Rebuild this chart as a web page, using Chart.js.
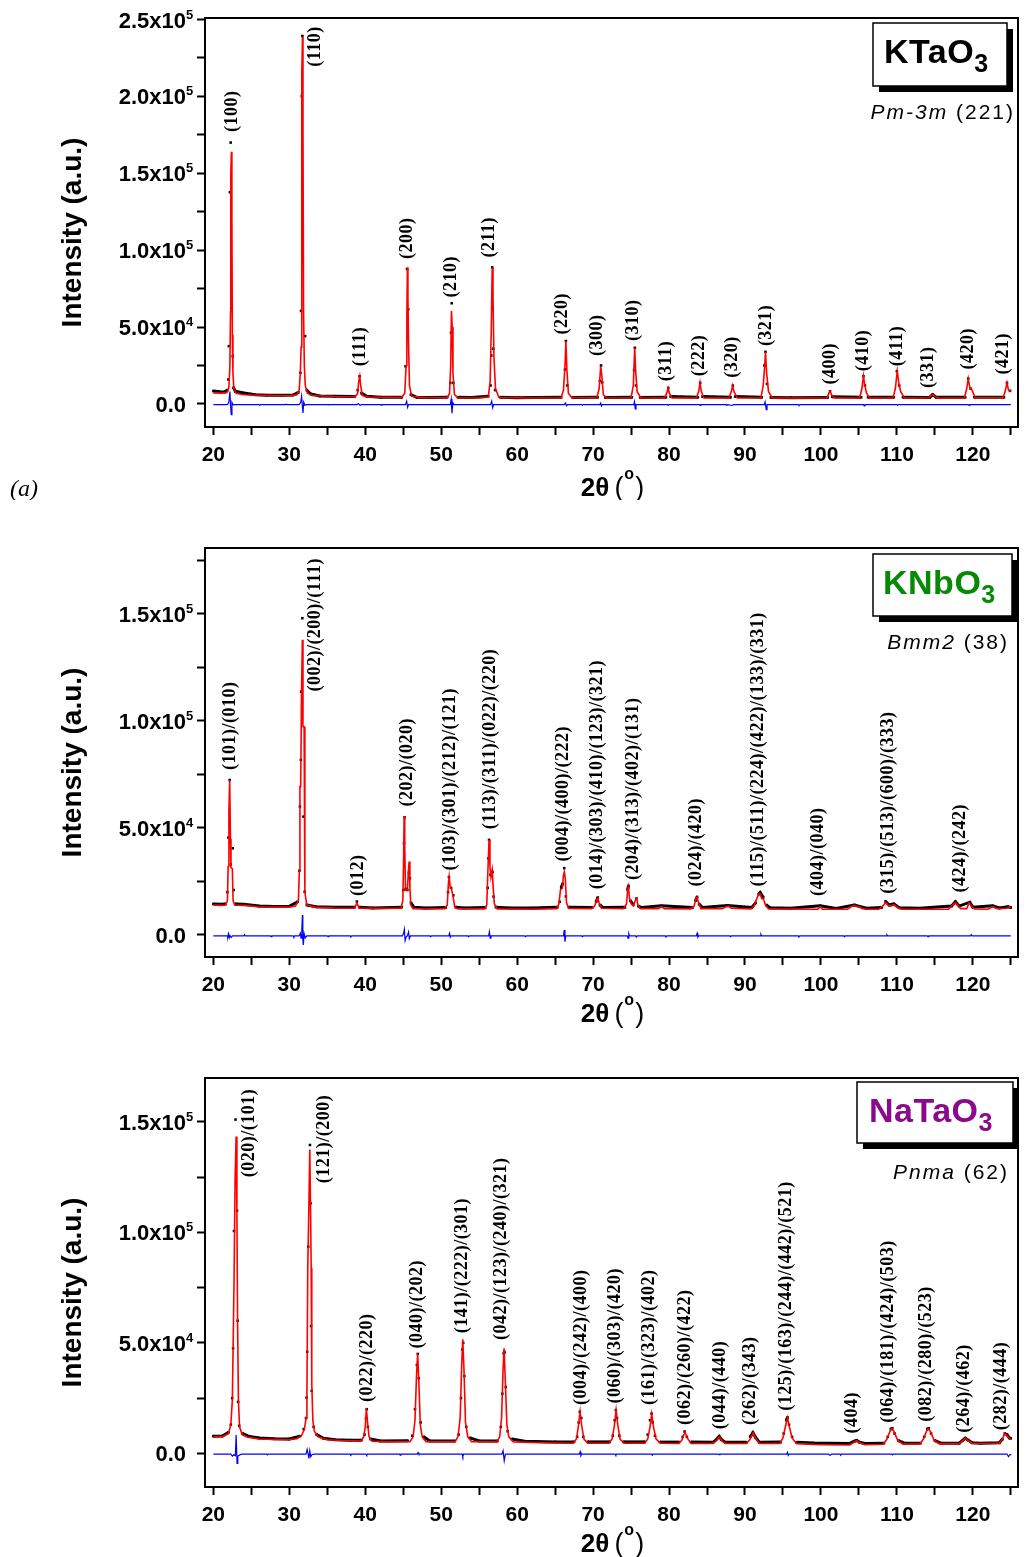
<!DOCTYPE html>
<html>
<head>
<meta charset="utf-8">
<script src="https://cdn.jsdelivr.net/npm/chart.js@4/dist/chart.umd.min.js"></script>
<style>
  html, body { margin: 0; padding: 0; background: #fff; }
  body { width: 1027px; height: 1557px; position: relative; overflow: hidden; }
  canvas { position: absolute; left: 0; }
</style>
</head>
<body>
<canvas id="c1" width="1027" height="500" style="top:0px"></canvas>
<canvas id="c2" width="1027" height="500" style="top:530px"></canvas>
<canvas id="c3" width="1027" height="497" style="top:1060px"></canvas>
<script>
// ---------- shared axis ticks (2θ in degrees) ----------
const xTickValues = [20, 25, 30, 35, 40, 45, 50, 55, 60, 65, 70, 75, 80, 85, 90, 95, 100, 105, 110, 115, 120, 125];
const xLabelValues = [20, 30, 40, 50, 60, 70, 80, 90, 100, 110, 120];

// ---------- KTaO3, Pm-3m ----------
const ktoYTicks = [0, 25000, 50000, 75000, 100000, 125000, 150000, 175000, 200000, 225000, 250000];
const ktoYLabelValues = [0, 50000, 100000, 150000, 200000, 250000];
const ktoYLabelText = ["0.0", "5.0x10^4", "1.0x10^5", "1.5x10^5", "2.0x10^5", "2.5x10^5"];

const ktoCalc = [[20.0,7200],[21.0,7000],[21.8,7500],[22.05,11000],[22.18,25000],[22.26,60000],[22.3,150000],[22.38,164000],[22.44,120000],[22.5,45000],[22.58,20000],[22.7,10000],[23.0,7000],[24.0,6000],[27.0,5500],[30.0,5300],[31.0,6000],[31.3,9000],[31.45,20000],[31.55,37000],[31.62,120000],[31.67,215000],[31.74,239000],[31.8,180000],[31.88,60000],[31.98,25000],[32.1,12000],[32.4,7000],[33.0,5500],[36.0,4800],[38.7,4700],[39.0,7000],[39.15,15000],[39.28,18000],[39.4,12000],[39.6,5500],[40.5,4500],[44.8,4200],[45.2,7000],[45.38,25000],[45.48,57000],[45.55,88800],[45.62,70000],[45.7,40000],[45.82,12000],[46.1,5000],[48,4000],[50.8,4000],[51.1,7000],[51.25,25000],[51.35,60500],[51.45,50000],[51.55,20000],[51.75,6000],[52.2,4000],[55,3900],[56.2,4500],[56.45,15000],[56.6,50000],[56.72,88800],[56.82,70000],[56.95,30000],[57.15,10000],[57.6,4200],[62,3900],[65.8,4000],[66.1,9000],[66.3,25000],[66.42,40900],[66.55,22000],[66.75,7000],[67.2,4000],[70.5,4000],[70.8,10000],[71.0,24500],[71.12,20000],[71.35,6000],[71.8,3900],[75.0,4000],[75.3,12000],[75.48,36500],[75.6,22000],[75.8,8000],[76.3,3900],[79.4,3900],[79.7,7000],[79.88,10400],[80.05,7000],[80.4,3900],[83.6,3900],[83.9,8000],[84.08,13700],[84.25,8000],[84.6,3900],[87.9,3900],[88.2,8000],[88.38,11900],[88.55,8000],[89.0,3900],[92.1,4000],[92.4,12000],[92.6,25000],[92.7,33900],[92.85,20000],[93.1,8000],[93.6,3900],[100.8,3900],[101.05,7000],[101.2,8200],[101.4,6000],[101.8,3900],[105.1,3900],[105.4,10000],[105.6,18000],[105.75,13000],[106.0,7000],[106.4,3900],[109.5,3900],[109.8,10000],[110.05,21300],[110.25,14000],[110.5,8000],[111.0,3900],[114.2,3900],[114.5,5500],[114.7,6000],[115.0,5000],[115.4,3900],[118.9,3900],[119.2,10000],[119.4,16500],[119.6,11000],[119.9,9000],[120.3,4000],[124.0,4000],[124.3,9000],[124.5,13700],[124.7,9000],[125.0,8000]];

const ktoObs = [[20,8400],[20.8,8000],[21.5,7800],[21.85,9000],[21.98,15900],[22.04,37600],[22.18,137700],[22.28,170000],[22.55,31000],[22.66,10600],[22.9,8200],[23.8,7300],[25.5,6000],[27,5700],[29,5600],[30.5,5800],[31.2,7500],[31.46,20200],[31.55,60500],[31.64,200100],[31.72,239300],[32.08,44100],[32.3,9000],[32.8,6500],[34,5200],[36,5000],[38.6,4800],[39.0,9000],[39.25,18000],[39.5,7000],[40.2,5000],[42,4400],[44.8,4300],[45.3,24500],[45.5,87800],[45.66,61500],[46.0,6000],[46.8,4300],[48.5,4200],[50.8,4400],[51.2,13700],[51.3,46300],[51.38,65500],[51.6,13700],[52.2,4300],[54,4200],[56.2,5000],[56.5,12000],[56.6,31500],[56.72,88800],[56.85,35900],[57.1,9000],[57.8,4300],[60,4100],[62,4200],[65.8,4300],[66.3,22400],[66.42,40900],[66.6,12000],[67.3,4200],[70.6,4300],[70.9,15000],[71.05,25000],[71.2,14000],[71.6,4200],[75.1,4300],[75.4,22000],[75.5,36500],[75.65,12000],[76.2,4200],[79.6,4300],[79.9,10400],[80.2,4800],[83.8,4300],[84.1,13700],[84.4,4800],[88.1,4300],[88.4,11900],[88.7,4800],[92.2,4300],[92.55,25000],[92.7,33900],[92.9,13000],[93.4,4200],[96,4100],[100.9,4200],[101.2,8200],[101.5,4600],[105.3,4300],[105.6,18000],[105.8,12000],[106.2,4400],[109.6,4300],[110.0,21300],[110.3,12000],[110.8,4400],[114.3,4200],[114.7,6000],[115.2,4300],[119.0,4300],[119.4,16500],[119.7,10000],[120.2,4400],[124.1,4300],[124.5,13700],[124.9,8500]];

const ktoDiff = [[20,-450],[21.5,-450],[21.9,-300],[22.05,1500],[22.18,8000],[22.28,-2000],[22.36,-7000],[22.45,1000],[22.6,-600],[22.8,-450],[26,-450],[26.1,-800],[26.2,-450],[29.5,-450],[29.6,-150],[29.7,-450],[31.3,-450],[31.5,1000],[31.62,5000],[31.72,-1500],[31.8,-5900],[31.9,1200],[32.05,-800],[32.3,-450],[35,-450],[35.1,-700],[35.2,-450],[38.9,-450],[39.1,300],[39.3,-900],[39.5,-450],[42,-450],[42.1,-750],[42.2,-450],[45.3,-450],[45.45,1800],[45.58,-2200],[45.7,-450],[51.2,-450],[51.32,3200],[51.42,-6000],[51.55,600],[51.7,-450],[56.5,-450],[56.65,1800],[56.78,-2500],[56.9,-450],[66.2,-450],[66.35,600],[66.5,-1200],[66.6,-450],[68.5,-450],[68.6,-900],[68.7,-450],[70.9,-450],[71.0,500],[71.1,-1300],[71.2,-450],[75.35,-450],[75.45,1500],[75.55,-3300],[75.65,-450],[79.8,-450],[79.9,-1000],[80.0,-450],[84.0,-450],[84.1,-900],[84.2,-450],[87.5,-450],[87.6,-900],[87.7,-450],[88.3,-1000],[88.5,-450],[92.55,-450],[92.65,1300],[92.8,-3700],[92.9,-450],[97,-450],[97.1,-900],[97.2,-450],[105.6,-450],[105.7,-1200],[105.8,-450],[110.0,-450],[110.1,-1000],[110.2,-450],[119.4,-450],[119.5,-900],[119.6,-450],[125,-450]];

const ktoHkl = ["(100)","(110)","(111)","(200)","(210)","(211)","(220)","(300)","(310)","(311)","(222)","(320)","(321)","(400)","(410)","(411)","(331)","(420)","(421)"];
const ktoHklAt = [22.5,33.4,39.3,45.55,51.4,56.35,66.0,70.5,75.3,79.6,84.0,88.35,92.75,101.2,105.6,110.0,114.2,119.4,124.0];
const ktoHklBase = [176900,219300,24500,94200,69200,95300,45200,31100,40900,14800,18000,17000,37600,12600,21300,24500,10400,22400,19100];

// ---------- KNbO3, Bmm2 ----------
const knoYTicks = [0, 25000, 50000, 75000, 100000, 125000, 150000, 175000];
const knoYLabelValues = [0, 50000, 100000, 150000];
const knoYLabelText = ["0.0", "5.0x10^4", "1.0x10^5", "1.5x10^5"];

const knoCalc = [[20,14000],[21.0,13800],[21.6,14000],[21.85,16000],[21.95,32000],[22.05,58000],[22.15,72400],[22.25,45000],[22.32,31500],[22.5,31000],[22.6,16000],[22.8,14000],[24,13800],[26,13200],[28,13000],[30,13000],[30.8,13500],[31.2,16000],[31.32,30000],[31.4,69300],[31.5,69300],[31.6,110000],[31.72,137900],[31.8,97300],[31.95,97300],[32.05,20000],[32.3,14000],[33.5,12900],[36,12600],[38.6,12500],[38.9,15000],[39.2,12500],[41,12400],[44.7,12500],[44.95,16000],[45.05,35000],[45.12,55600],[45.2,42000],[45.3,21000],[45.55,21000],[45.68,30000],[45.78,34300],[45.88,22000],[46.0,14000],[46.3,12300],[48,12100],[50.5,12300],[50.8,14000],[50.95,24000],[51.05,27200],[51.2,22000],[51.35,21800],[51.5,19000],[51.65,16000],[51.8,13000],[52.2,12200],[55.7,12200],[56.0,14000],[56.15,30000],[56.3,44400],[56.42,32000],[56.55,27000],[56.72,30400],[56.85,22000],[57.0,14500],[57.4,12200],[62,12000],[65.2,12300],[65.5,14500],[65.7,21000],[65.95,22000],[66.1,28000],[66.22,29500],[66.35,26000],[66.5,15000],[66.8,12400],[69.8,12300],[70.2,13500],[70.5,16500],[70.62,17100],[70.8,15000],[71.1,12500],[74.0,12300],[74.4,14500],[74.55,21000],[74.65,22600],[74.8,17000],[75.05,14500],[75.3,13700],[75.6,16500],[75.75,17100],[75.9,14000],[76.2,12300],[78.6,12300],[79.0,13200],[79.4,12300],[82.9,12200],[83.3,13500],[83.55,17000],[83.7,17600],[83.85,15500],[84.2,12300],[87.0,12300],[87.5,13200],[87.8,13500],[88.2,12500],[90.8,12200],[91.2,13500],[91.5,16500],[91.8,19000],[92.0,19200],[92.2,17000],[92.4,17100],[92.7,14000],[93.1,12200],[99.6,12000],[99.9,13200],[100.2,12000],[103.5,12000],[104.0,13300],[104.4,13700],[104.9,13200],[105.5,12300],[106.0,12000],[107.6,12000],[108.2,13700],[108.55,15300],[108.9,13700],[109.3,13600],[109.6,14200],[110.0,13000],[110.6,12000],[116.8,12000],[117.3,13800],[117.7,15100],[118.0,14000],[118.4,12300],[119.2,12300],[119.5,15000],[119.8,13500],[120.2,12200],[122.0,12000],[122.6,13200],[123.2,12300],[124.4,12500],[124.8,13000],[125,12800]];

const knoObs = [[20,14500],[21,14300],[21.6,14500],[21.85,20000],[21.98,45500],[22.15,72400],[22.3,33000],[22.55,40500],[22.68,21000],[22.9,14500],[24,14300],[26,13500],[28,13300],[30,13400],[31.1,15500],[31.33,30000],[31.4,60000],[31.52,81800],[31.56,113700],[31.72,148000],[31.86,55300],[32.02,20200],[32.3,14000],[33.5,13200],[36,12900],[38.6,13000],[38.9,15600],[39.2,13000],[41,12600],[44.8,13000],[45.02,21000],[45.1,42800],[45.18,55000],[45.32,21500],[45.55,21000],[45.75,29000],[45.88,26500],[46.02,15000],[46.4,12900],[48,12600],[50.6,12800],[50.9,20000],[51.02,27000],[51.3,22000],[51.6,18500],[51.9,13000],[53,12600],[55.8,12800],[56.12,22000],[56.22,35800],[56.3,44400],[56.5,28000],[56.75,29500],[56.9,17900],[57.2,13000],[59,12600],[62,12600],[65.3,12900],[65.6,15500],[65.8,22000],[66.0,24000],[66.2,31200],[66.42,18000],[66.8,13000],[69.9,12800],[70.4,15500],[70.62,17500],[70.9,14000],[71.3,12800],[74.2,12900],[74.55,21000],[74.66,23000],[74.9,16000],[75.3,14000],[75.7,17000],[75.95,13500],[76.4,12800],[79.0,13600],[83.1,12800],[83.5,16000],[83.7,17800],[83.95,14500],[84.4,12800],[87.7,13800],[90.9,12800],[91.4,15000],[91.8,19000],[92.0,19800],[92.4,17600],[92.8,14000],[93.3,12700],[96,12500],[99.9,13600],[102,12400],[104.4,14000],[106,12500],[108.0,12800],[108.5,15700],[109.0,14000],[109.6,14500],[110.3,12700],[113,12500],[117.2,13500],[117.7,15500],[118.2,13500],[119.6,15300],[120.0,13000],[122.6,13600],[123.5,12600],[124.6,13200],[125,12800]];

const knoDiff = [[20,-470],[21.8,-470],[21.9,-1000],[22.0,600],[22.1,-1300],[22.2,-300],[22.35,-1200],[22.5,-470],[24.0,-470],[24.1,100],[24.2,-470],[27.5,-470],[27.6,-800],[27.7,-470],[30.5,-470],[30.6,-1000],[30.7,-470],[31.3,-470],[31.45,800],[31.55,-1500],[31.65,2500],[31.73,9300],[31.78,-2000],[31.85,-4700],[31.95,700],[32.1,-1400],[32.3,-470],[35,-470],[35.1,-800],[35.2,-470],[38,-470],[38.1,-800],[38.2,-470],[44.9,-470],[45.05,800],[45.15,2650],[45.25,-2650],[45.4,-800],[45.55,-470],[45.7,1400],[45.8,-1700],[45.95,-470],[48.5,-470],[48.6,-800],[48.7,-470],[51.0,-470],[51.1,800],[51.2,-1000],[51.3,-470],[53.5,-470],[53.6,-800],[53.7,-470],[56.25,-470],[56.35,1500],[56.45,-1500],[56.55,-470],[61,-470],[61.1,-800],[61.2,-470],[66.1,-470],[66.2,2300],[66.3,-3100],[66.4,-470],[68.5,-470],[68.6,-800],[68.7,-470],[74.5,-470],[74.6,-1500],[74.7,600],[74.8,-470],[75.6,-470],[75.7,-1000],[75.8,-470],[79.5,-470],[79.6,-800],[79.7,-470],[83.6,-470],[83.7,800],[83.8,-1000],[83.9,-470],[88,-470],[88.1,-800],[88.2,-470],[92,-470],[92.1,300],[92.2,-470],[97,-470],[97.1,-800],[97.2,-470],[103,-470],[103.1,-800],[103.2,-470],[108.6,-470],[108.7,100],[108.8,-470],[114,-470],[114.1,-800],[114.2,-470],[119.7,-470],[119.8,100],[119.9,-470],[125,-470]];

const knoHkl = ["(101)/(010)","(002)/(200)/(111)","(012)","(202)/(020)","(103)/(301)/(212)/(121)","(113)/(311)/(022)/(220)","(004)/(400)/(222)","(014)/(303)/(410)/(123)/(321)","(204)/(313)/(402)/(131)","(024)/(420)","(115)/(511)/(224)/(422)/(133)/(331)","(404)/(040)","(315)/(513)/(600)/(333)","(424)/(242)"];
const knoHklAt = [22.3,33.4,39.1,45.5,51.26,56.45,66.1,70.5,75.35,83.65,91.77,99.7,108.9,118.3];
const knoHklBase = [77100,113700,18200,60000,30100,49400,34300,21300,25700,22600,22600,18200,19200,19800];

// ---------- NaTaO3, Pnma ----------
const ntoYTicks = [0, 25000, 50000, 75000, 100000, 125000, 150000];
const ntoYLabelValues = [0, 50000, 100000, 150000];
const ntoYLabelText = ["0.0", "5.0x10^4", "1.0x10^5", "1.5x10^5"];

const ntoCalc = [[20,7500],[21.2,7600],[22.0,9000],[22.3,13000],[22.5,24000],[22.6,47500],[22.72,77000],[22.86,123600],[23.0,143300],[23.1,110000],[23.18,63000],[23.3,24000],[23.45,12000],[23.8,8500],[24.5,7300],[26,6500],[28,6300],[30,6200],[31.0,6600],[31.6,8000],[32.0,11000],[32.2,16000],[32.32,25000],[32.43,84000],[32.56,108500],[32.7,137500],[32.8,110000],[32.88,84000],[32.96,31700],[33.1,15000],[33.3,10000],[33.8,7500],[35,6200],[37,5800],[39.4,5600],[39.8,7500],[40.0,12000],[40.15,20400],[40.3,14000],[40.5,7500],[40.9,5500],[43,5200],[45.9,5300],[46.3,7500],[46.55,15000],[46.75,35000],[46.9,45200],[47.05,33000],[47.25,13000],[47.5,7500],[48.0,5300],[51.8,5200],[52.2,7500],[52.5,16000],[52.7,40000],[52.84,51600],[53.0,38000],[53.2,14000],[53.5,7500],[54.0,5300],[57.3,5200],[57.7,7500],[57.95,16000],[58.15,38000],[58.28,47500],[58.42,35000],[58.65,13000],[58.9,7500],[59.5,5200],[63,4800],[67.4,4600],[67.8,6500],[68.05,12000],[68.29,18800],[68.5,12500],[68.8,6500],[69.3,4600],[72.1,4600],[72.5,6500],[72.8,12500],[73.03,19600],[73.25,13000],[73.55,6500],[74.1,4600],[76.8,4600],[77.2,6500],[77.5,12000],[77.72,17800],[77.95,12000],[78.3,6500],[78.9,4600],[81.3,4500],[81.7,6000],[82.1,9800],[82.4,7000],[82.9,4500],[85.8,4500],[86.2,5600],[86.6,7500],[86.95,5800],[87.4,4500],[90.2,4500],[90.6,6000],[91.1,9300],[91.45,6500],[91.9,4500],[94.6,4500],[95.0,7000],[95.35,12500],[95.6,16100],[95.85,12000],[96.2,7000],[96.8,4400],[100,3900],[103.8,3800],[104.3,5000],[104.7,5700],[105.1,4800],[105.8,3900],[108.2,4100],[108.7,6500],[109.1,10000],[109.3,11300],[109.6,10000],[110.1,6000],[110.8,4200],[113,4200],[113.5,6500],[113.9,10000],[114.1,11300],[114.4,10000],[114.9,6000],[115.6,4300],[118.2,4400],[118.7,5800],[119.0,6800],[119.4,5800],[119.9,4600],[122,4500],[123.5,4600],[123.9,6500],[124.2,9000],[124.5,8000],[124.8,7000],[125,6800]];

const ntoObs = [[20,7800],[21.2,7900],[22.0,9500],[22.3,13000],[22.48,25000],[22.6,47500],[22.72,100600],[22.92,151000],[23.12,109800],[23.2,60000],[23.26,23300],[23.4,12500],[23.8,9000],[24.6,7800],[26,7000],[28,6600],[30,6500],[31.4,7800],[31.9,11000],[32.2,16000],[32.28,25200],[32.36,46000],[32.5,93500],[32.72,139500],[32.8,113100],[32.86,57600],[32.95,28300],[33.2,12000],[33.6,8500],[34.5,6800],[36,6200],[38,6000],[39.5,6000],[39.9,8500],[40.1,16000],[40.2,20000],[40.35,12000],[40.7,6500],[42,5600],[45.6,5700],[46.2,8000],[46.55,20000],[46.8,40000],[46.92,45000],[47.05,34000],[47.3,14000],[47.7,7500],[48.5,5600],[51.8,5600],[52.3,8500],[52.6,25000],[52.78,47000],[52.9,50000],[53.05,35000],[53.3,12000],[53.8,7000],[55,5600],[57.4,5600],[57.85,12000],[58.05,27000],[58.25,45000],[58.32,46000],[58.5,30000],[58.75,10000],[59.3,6500],[61,5500],[65,5200],[67.5,5200],[67.9,7500],[68.1,14000],[68.25,18800],[68.45,16000],[68.7,7500],[69.3,5200],[72.2,5200],[72.6,8000],[72.85,15000],[73.0,19600],[73.15,16000],[73.45,8000],[74,5200],[76.8,5200],[77.2,8500],[77.5,15000],[77.7,18000],[77.85,14000],[78.15,8000],[78.8,5100],[81.3,5100],[81.8,7500],[82.05,9900],[82.35,7500],[82.9,5100],[85.8,5000],[86.3,6500],[86.6,7700],[86.9,6200],[87.4,5000],[90.2,5000],[90.7,7500],[91.05,9400],[91.4,7200],[91.9,5000],[94.7,5100],[95.1,9000],[95.45,15000],[95.6,16300],[95.8,13000],[96.2,7500],[96.8,5000],[99,4700],[103.8,4500],[104.4,5500],[104.7,5900],[105.1,5000],[105.8,4500],[108.3,4600],[108.8,7500],[109.2,11000],[109.4,11400],[109.7,9000],[110.2,5800],[111,4600],[113.1,4600],[113.6,7500],[114.0,11000],[114.2,11400],[114.5,9000],[115.0,5800],[115.8,4600],[118.2,4600],[118.7,6000],[119.0,6900],[119.4,6000],[119.9,4800],[121,4600],[123.5,4800],[123.9,6500],[124.2,9000],[124.5,8500],[124.8,7000],[125,6800]];

const ntoDiff = [[20,-300],[22.3,-300],[22.5,-1200],[22.7,-600],[22.9,-1000],[23.0,8300],[23.12,-4500],[23.22,-1200],[23.4,-900],[23.7,-300],[27,-300],[27.1,-700],[27.2,-300],[31.5,-300],[32.2,-300],[32.35,1800],[32.48,-300],[32.58,-2300],[32.7,1200],[32.82,-1500],[33.0,-500],[33.3,-300],[38,-300],[38.1,-700],[38.2,-300],[40.1,-300],[40.2,-800],[40.3,-300],[44.5,-300],[44.6,-800],[44.7,-300],[46.85,-300],[46.95,400],[47.05,-300],[52.75,-300],[52.85,-1500],[52.95,-300],[58.0,-300],[58.15,1200],[58.3,-3300],[58.45,-300],[68.2,-300],[68.3,700],[68.4,-1000],[68.5,-300],[72.9,-300],[73.0,-800],[73.1,-300],[77.7,-300],[77.8,-800],[77.9,-300],[86.5,-300],[86.6,-600],[86.7,-300],[95.5,-300],[95.6,500],[95.7,-900],[95.8,-300],[101,-300],[101.2,-900],[101.4,-300],[102.5,-300],[102.6,-900],[102.7,-300],[109.3,-300],[109.4,-700],[109.5,-300],[124.5,-300],[124.7,-1500],[124.9,-600],[125,-300]];

const ntoHkl = ["(020)/(101)","(121)/(200)","(022)/(220)","(040)/(202)","(141)/(222)/(301)","(042)/(123)/(240)/(321)","(004)/(242)/(400)","(060)/(303)/(420)","(161)/(323)/(402)","(062)/(260)/(422)","(044)/(440)","(262)/(343)","(125)/(163)/(244)/(442)/(521)","(404)","(064)/(181)/(424)/(503)","(082)/(280)/(523)","(264)/(462)","(282)/(444)"];
const ntoHklAt = [24.75,34.6,40.3,46.8,52.84,57.97,68.42,72.9,77.37,82.1,86.7,90.67,95.4,104.2,108.9,113.9,118.9,123.7];
const ntoHklBase = [124900,122200,23300,47500,54300,51300,21900,22600,21900,12800,10900,12800,19300,9000,13900,14300,9300,10500];

// ---------- drawing ----------
const SANS = '"Liberation Sans", Arial, sans-serif';
const SERIF = '"Liberation Serif", "Times New Roman", serif';

const panels = [
  { id: 'c1', calc: ktoCalc, obs: ktoObs, diff: ktoDiff, yMin: -15000, yMax: 251000,
    yTicks: ktoYTicks, yLabelValues: ktoYLabelValues, yLabelText: ktoYLabelText,
    hkl: ktoHkl, hklAt: ktoHklAt, hklBase: ktoHklBase,
    formula: ['KTaO', '3'], color: '#000000', group: ['Pm-3m', '(221)'],
    box: { x: 873, y: 23, w: 134, h: 63 }, textInset: 11, groupRight: 1015,
    xAxisH: 73, xTitleBase: 69, tag: '(a)' },
  { id: 'c2', calc: knoCalc, obs: knoObs, diff: knoDiff, yMin: -10300, yMax: 180800,
    yTicks: knoYTicks, yLabelValues: knoYLabelValues, yLabelText: knoYLabelText,
    hkl: knoHkl, hklAt: knoHklAt, hklBase: knoHklBase,
    formula: ['KNbO', '3'], color: '#068a06', group: ['Bmm2', '(38)'],
    box: { x: 873, y: 24, w: 139, h: 62 }, textInset: 10, groupRight: 1009,
    xAxisH: 73, xTitleBase: 65, tag: '' },
  { id: 'c3', calc: ntoCalc, obs: ntoObs, diff: ntoDiff, yMin: -15200, yMax: 169800,
    yTicks: ntoYTicks, yLabelValues: ntoYLabelValues, yLabelText: ntoYLabelText,
    hkl: ntoHkl, hklAt: ntoHklAt, hklBase: ntoHklBase,
    formula: ['NaTaO', '3'], color: '#8a0a8a', group: ['Pnma', '(62)'],
    box: { x: 857, y: 22, w: 156, h: 61 }, textInset: 12, groupRight: 1009,
    xAxisH: 70, xTitleBase: 65, tag: '' }
];

const toXY = arr => arr.map(p => ({ x: p[0], y: p[1] }));

function makeChart(p) {
  const decor = {
    id: 'decor',
    afterDraw(chart) {
      const ctx = chart.ctx, a = chart.chartArea;
      const xs = chart.scales.x, ys = chart.scales.y;
      ctx.save();

      // closing frame on top and right
      ctx.strokeStyle = '#000';
      ctx.lineWidth = 2;
      ctx.beginPath();
      ctx.moveTo(a.left - 1, a.top);
      ctx.lineTo(a.right, a.top);
      ctx.lineTo(a.right, a.bottom + 1);
      ctx.stroke();

      ctx.fillStyle = '#000';

      // y tick labels with superscript exponent
      p.yLabelValues.forEach((v, i) => {
        const y = ys.getPixelForValue(v);
        const parts = p.yLabelText[i].split('^');
        ctx.font = 'bold 22px ' + SANS;
        ctx.textAlign = 'right';
        ctx.textBaseline = 'alphabetic';
        ctx.fillText(parts[0], 186, y + 8);
        if (parts[1]) {
          ctx.font = 'bold 13px ' + SANS;
          ctx.textAlign = 'left';
          ctx.fillText(parts[1], 186, y - 1);
        }
      });

      // x tick labels
      ctx.font = 'bold 21px ' + SANS;
      ctx.textAlign = 'center';
      ctx.textBaseline = 'middle';
      xLabelValues.forEach(v => {
        ctx.fillText(String(v), xs.getPixelForValue(v), a.bottom + 28);
      });

      // y title
      ctx.save();
      ctx.translate(73, (a.top + a.bottom) / 2 + 10);
      ctx.rotate(-Math.PI / 2);
      ctx.font = 'bold 28px ' + SANS;
      ctx.textAlign = 'center';
      ctx.textBaseline = 'middle';
      ctx.fillText('Intensity (a.u.)', 0, 0);
      ctx.restore();

      // x title: 2θ (°)
      const base = a.bottom + p.xTitleBase;
      const pieces = [
        { t: '2θ', f: 'bold 26px ' + SANS, dy: 0, gap: 5 },
        { t: '(', f: '27px ' + SANS, dy: 0, gap: 1 },
        { t: 'o', f: 'bold 16px ' + SANS, dy: -17, gap: 1 },
        { t: ')', f: '27px ' + SANS, dy: 0, gap: 0 }
      ];
      let total = 0;
      pieces.forEach(pc => { ctx.font = pc.f; pc.w = ctx.measureText(pc.t).width; total += pc.w + pc.gap; });
      let cx = (a.left + a.right) / 2 + 1 - total / 2;
      ctx.textAlign = 'left';
      ctx.textBaseline = 'alphabetic';
      pieces.forEach(pc => { ctx.font = pc.f; ctx.fillText(pc.t, cx, base + pc.dy); cx += pc.w + pc.gap; });

      // reflection indices above the peaks
      ctx.font = 'bold 18px ' + SERIF;
      ctx.letterSpacing = '0.5px';
      ctx.textAlign = 'left';
      ctx.textBaseline = 'middle';
      p.hkl.forEach((txt, i) => {
        ctx.save();
        ctx.translate(xs.getPixelForValue(p.hklAt[i]), ys.getPixelForValue(p.hklBase[i]));
        ctx.rotate(-Math.PI / 2);
        ctx.fillText(txt, 0, 0);
        ctx.restore();
      });
      ctx.letterSpacing = '0px';

      // compound label box with drop shadow
      const b = p.box;
      ctx.fillStyle = '#000';
      ctx.fillRect(b.x + 6, b.y + 6, b.w, b.h);
      ctx.fillStyle = '#fff';
      ctx.fillRect(b.x, b.y, b.w, b.h);
      ctx.strokeStyle = '#000';
      ctx.lineWidth = 1.5;
      ctx.strokeRect(b.x, b.y, b.w, b.h);
      ctx.fillStyle = p.color;
      ctx.textBaseline = 'alphabetic';
      ctx.textAlign = 'left';
      ctx.font = 'bold 34px ' + SANS;
      ctx.letterSpacing = '0.5px';
      const tx = b.x + p.textInset;
      ctx.fillText(p.formula[0], tx, b.y + 40);
      const fw = ctx.measureText(p.formula[0]).width;
      ctx.font = 'bold 25px ' + SANS;
      ctx.fillText(p.formula[1], tx + fw, b.y + 49);
      ctx.letterSpacing = '0px';

      // space group
      ctx.fillStyle = '#000';
      ctx.letterSpacing = '2px';
      ctx.textAlign = 'left';
      ctx.font = '21px ' + SANS;
      const w2 = ctx.measureText(p.group[1]).width;
      ctx.font = 'italic 21px ' + SANS;
      const w1 = ctx.measureText(p.group[0] + ' ').width;
      const gx = p.groupRight - w1 - w2;
      const gy = a.top + 101;
      ctx.fillText(p.group[0] + ' ', gx, gy);
      ctx.font = '21px ' + SANS;
      ctx.fillText(p.group[1], gx + w1, gy);
      ctx.letterSpacing = '0px';

      // panel tag
      if (p.tag) {
        ctx.font = 'italic 24px ' + SERIF;
        ctx.fillText(p.tag, 10, 496);
      }
      ctx.restore();
    }
  };

  const axisCommon = {
    type: 'linear',
    ticks: { display: false },
    grid: { display: true, drawOnChartArea: false, drawTicks: true, tickLength: 8, tickWidth: 2, tickColor: '#000', color: '#000' },
    border: { display: true, color: '#000', width: 2 }
  };

  return new Chart(document.getElementById(p.id), {
    type: 'line',
    data: {
      datasets: [
        { label: 'Ycalc', data: toXY(p.calc), borderColor: '#ff0000', borderWidth: 1.6,
          pointRadius: 0, tension: 0, fill: false, order: 0 },
        { label: 'Yobs', data: toXY(p.obs), borderColor: '#000', borderWidth: 3,
          pointRadius: 1.8, pointStyle: 'rect', pointBackgroundColor: '#000', pointBorderWidth: 0,
          tension: 0, fill: false, order: 1,
          segment: { borderColor: c => Math.abs(c.p1.y - c.p0.y) > 5 ? 'rgba(0,0,0,0)' : '#000' } },
        { label: 'Yobs-Ycalc', data: toXY(p.diff), borderColor: '#0000ff', borderWidth: 1.2,
          pointRadius: 0, tension: 0, fill: false, order: 2 }
      ]
    },
    options: {
      responsive: false,
      animation: false,
      events: [],
      layout: { padding: { top: 18, right: 9, left: 0, bottom: 0 } },
      plugins: { legend: { display: false }, tooltip: { enabled: false } },
      scales: {
        x: Object.assign({}, axisCommon, {
          min: 18.9, max: 125.95,
          afterBuildTicks: s => { s.ticks = xTickValues.map(v => ({ value: v })); },
          afterFit: s => { s.height = p.xAxisH; }
        }),
        y: Object.assign({}, axisCommon, {
          min: p.yMin, max: p.yMax,
          afterBuildTicks: s => { s.ticks = p.yTicks.map(v => ({ value: v })); },
          afterFit: s => { s.width = 205; }
        })
      }
    },
    plugins: [decor]
  });
}

panels.forEach(makeChart);
</script>
</body>
</html>
